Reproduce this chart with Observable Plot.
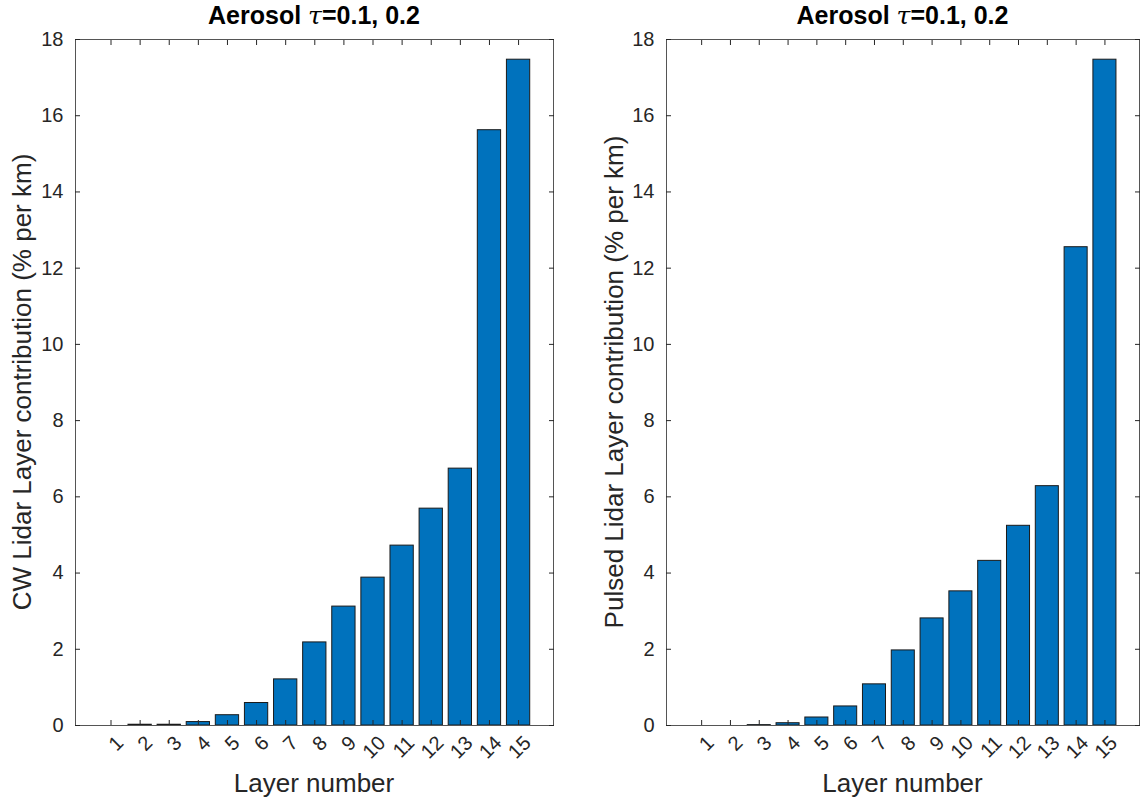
<!DOCTYPE html>
<html><head><meta charset="utf-8">
<script src="https://cdn.jsdelivr.net/npm/d3@7"></script>
<script src="https://cdn.jsdelivr.net/npm/@observablehq/plot@0.6"></script>
<style>
body{margin:0;background:#fff;}
#wrap{position:relative;width:1140px;height:800px;font-family:"Liberation Sans",Arial,Helvetica,sans-serif;color:#262626;overflow:hidden;}
.panel{position:absolute;top:0;}
.title{position:absolute;top:1px;font-weight:bold;font-size:25px;white-space:nowrap;transform:translateX(-50%);color:#000;}
.title i{font-family:"DejaVu Serif","Liberation Serif",serif;font-weight:normal;}
.xlab{position:absolute;top:768px;font-size:26px;white-space:nowrap;transform:translateX(-50%);}
.ylab{position:absolute;font-size:26px;white-space:nowrap;transform:translate(-50%,-50%) rotate(-90deg);}
</style></head>
<body><div id="wrap"></div>
<script>
const layers = [1,2,3,4,5,6,7,8,9,10,11,12,13,14,15];
const cwValues = [0, 0.02, 0.02, 0.09, 0.27, 0.59, 1.21, 2.18, 3.12, 3.88, 4.72, 5.69, 6.74, 15.62, 17.47];
const pulsedValues = [0, 0, 0.01, 0.06, 0.21, 0.50, 1.08, 1.97, 2.81, 3.52, 4.32, 5.24, 6.28, 12.55, 17.47];
const yTicks = [0,2,4,6,8,10,12,14,16,18];
const titleText = "Aerosol ";
const titleTail = "=0.1, 0.2";
const xLabel = "Layer number";
const yLabels = ["CW Lidar Layer contribution (% per km)", "Pulsed Lidar Layer contribution (% per km)"];

const wrap = document.getElementById("wrap");

function makePlot(values, marginLeft, marginRight) {
  const data = layers.map((layer, i) => ({layer, value: values[i]}));
  return Plot.plot({
    width: 570, height: 800,
    marginTop: 39, marginBottom: 75, marginLeft, marginRight,
    x: {domain: [-0.22, 16.2]},
    y: {domain: [0, 18]},
    style: {fontFamily: '"Liberation Sans", Arial, Helvetica, sans-serif', fontSize: "20px", color: "#262626", background: "transparent", overflow: "visible"},
    marks: [
      Plot.rectY(data, {x1: d => d.layer - 0.4, x2: d => d.layer + 0.4, y: "value", fill: "#0072BD", stroke: "#1a1a1a", strokeWidth: 1}),
      Plot.frame({stroke: "#555"}),
      Plot.axisY(yTicks, {anchor: "left", tickSize: -5, tickPadding: 17, label: null}),
      Plot.axisY(yTicks, {anchor: "right", tickSize: -5, tickFormat: () => "", label: null}),
      Plot.axisX(layers, {anchor: "bottom", tickSize: -5, tickFormat: () => "", label: null}),
      Plot.axisX(layers, {anchor: "bottom", tickSize: 0, tickRotate: -45, tickPadding: 14, dx: 9, label: null}),
      Plot.axisX(layers, {anchor: "top", tickSize: -5, tickFormat: () => "", label: null})
    ]
  });
}

const panels = [
  {values: cwValues, left: 0, ml: 75, mr: 17},
  {values: pulsedValues, left: 570, ml: 96, mr: 1}
];
panels.forEach((p, i) => {
  const div = document.createElement("div");
  div.className = "panel";
  div.style.left = p.left + "px";
  div.appendChild(makePlot(p.values, p.ml, p.mr));
  wrap.appendChild(div);
  const cx = p.left + p.ml + (570 - p.ml - p.mr) / 2;
  const t = document.createElement("div");
  t.className = "title";
  t.style.left = cx + "px";
  t.innerHTML = titleText + "<i>τ</i>" + titleTail;
  wrap.appendChild(t);
  const xl = document.createElement("div");
  xl.className = "xlab";
  xl.style.left = cx + "px";
  xl.textContent = xLabel;
  wrap.appendChild(xl);
  const yl = document.createElement("div");
  yl.className = "ylab";
  yl.style.left = (p.left + (i === 0 ? 22 : 44)) + "px";
  yl.style.top = "382px";
  yl.textContent = yLabels[i];
  wrap.appendChild(yl);
});
</script></body></html>
